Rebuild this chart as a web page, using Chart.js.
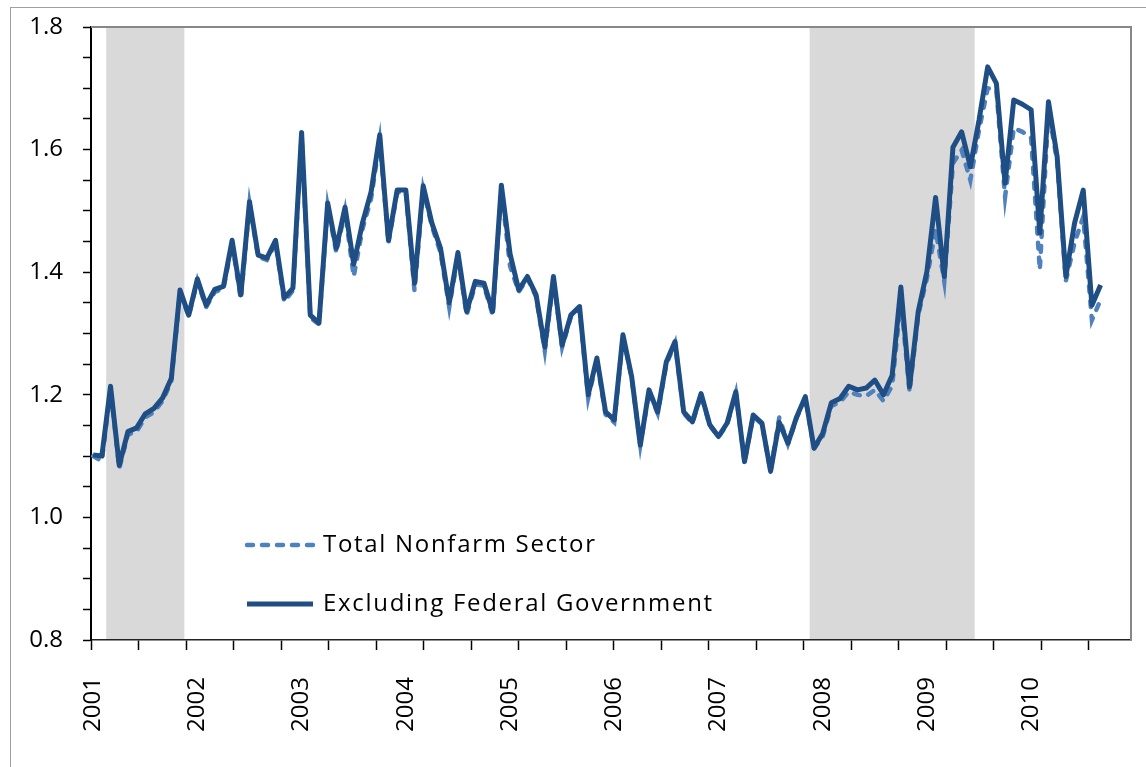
<!DOCTYPE html>
<html>
<head>
<meta charset="utf-8">
<script src="https://cdn.jsdelivr.net/npm/chart.js@4.4.0/dist/chart.umd.min.js"></script>
<style>
  html, body { margin: 0; padding: 0; background: #fff; overflow: hidden; }
  #wrap { position: relative; width: 1146px; height: 767px; }
  #frame { position: absolute; left: 10px; top: 7px; width: 1200px; height: 800px; border: 1px solid #a0a0a0; }
  canvas { position: absolute; left: 0; top: 0; }
</style>
</head>
<body>
<div id="wrap">
  <div id="frame"></div>
  <canvas id="myChart" width="1146" height="767"></canvas>
</div>
<script>
// tick labels on the x axis (one per January)
const yearLabels = ["2001", "2002", "2003", "2004", "2005", "2006", "2007", "2008", "2009", "2010"];

// monthly series, Jan 2001 - Sep 2010
const totalNonfarm = [
  1.100, 1.092, 1.210, 1.080, 1.135, 1.140, 1.163, 1.172, 1.190, 1.222, 1.368, 1.328,
  1.386, 1.343, 1.368, 1.373, 1.448, 1.356, 1.512, 1.425, 1.420, 1.448, 1.352, 1.370,
  1.620, 1.326, 1.315, 1.508, 1.432, 1.500, 1.393, 1.470, 1.520, 1.615, 1.448, 1.530,
  1.530, 1.370, 1.535, 1.475, 1.432, 1.343, 1.428, 1.330, 1.380, 1.378, 1.330, 1.535,
  1.410, 1.368, 1.390, 1.360, 1.272, 1.388, 1.278, 1.327, 1.340, 1.195, 1.256, 1.168,
  1.155, 1.295, 1.228, 1.118, 1.205, 1.170, 1.250, 1.284, 1.170, 1.154, 1.200, 1.150,
  1.131, 1.152, 1.203, 1.090, 1.165, 1.152, 1.075, 1.163, 1.120, 1.162, 1.195, 1.112,
  1.132, 1.182, 1.188, 1.205, 1.200, 1.198, 1.208, 1.190, 1.215, 1.355, 1.205, 1.330,
  1.390, 1.470, 1.385, 1.578, 1.599, 1.550, 1.632, 1.700, 1.697, 1.523, 1.635, 1.629,
  1.619, 1.404, 1.665, 1.580, 1.386, 1.448, 1.490, 1.322, 1.355
];
const exclFederal = [
  1.102, 1.100, 1.214, 1.085, 1.140, 1.146, 1.169, 1.178, 1.195, 1.227, 1.371, 1.330,
  1.389, 1.346, 1.372, 1.377, 1.452, 1.363, 1.515, 1.428, 1.423, 1.452, 1.358, 1.374,
  1.628, 1.330, 1.317, 1.513, 1.439, 1.506, 1.413, 1.480, 1.531, 1.624, 1.452, 1.534,
  1.534, 1.382, 1.541, 1.480, 1.439, 1.350, 1.432, 1.336, 1.385, 1.382, 1.336, 1.542,
  1.430, 1.371, 1.393, 1.363, 1.278, 1.393, 1.281, 1.330, 1.344, 1.200, 1.260, 1.172,
  1.159, 1.298, 1.230, 1.118, 1.208, 1.172, 1.254, 1.287, 1.172, 1.156, 1.202, 1.151,
  1.132, 1.154, 1.205, 1.091, 1.167, 1.154, 1.075, 1.155, 1.121, 1.164, 1.197, 1.113,
  1.137, 1.187, 1.194, 1.214, 1.208, 1.211, 1.224, 1.200, 1.232, 1.376, 1.213, 1.336,
  1.401, 1.522, 1.393, 1.604, 1.629, 1.572, 1.648, 1.735, 1.708, 1.545, 1.681, 1.674,
  1.665, 1.464, 1.678, 1.588, 1.393, 1.480, 1.534, 1.346, 1.379
];

// recessions (shaded), first and last month
const recessionStart = ["2001-03", "2007-12"];
const recessionEnd = ["2001-11", "2009-06"];

// month categories
const months = [];
yearLabels.forEach(function (y) {
  for (let m = 1; m <= 12; m++) {
    months.push(y + "-" + String(m).padStart(2, "0"));
  }
});
const toPoints = function (arr) {
  return arr.map(function (v, i) { return { x: i, y: v }; });
};

const FONT = "'Open Sans', 'Liberation Sans', sans-serif";
const xTickStep = 5.47;

// grey recession bars
const shadePlugin = {
  id: "shade",
  beforeDatasetsDraw(chart) {
    const { ctx, chartArea, scales } = chart;
    ctx.save();
    ctx.fillStyle = "#d9d9d9";
    recessionStart.forEach(function (s, i) {
      const x0 = scales.x.getPixelForValue(months.indexOf(s) - 0.5);
      const x1 = scales.x.getPixelForValue(months.indexOf(recessionEnd[i]) + 0.5);
      ctx.fillRect(x0, chartArea.top, x1 - x0, chartArea.bottom - chartArea.top - 1);
    });
    ctx.restore();
  }
};

// top/right border of plot and the legend inside it
const framePlugin = {
  id: "frameLegend",
  afterDraw(chart) {
    const { ctx, chartArea } = chart;
    ctx.save();
    ctx.strokeStyle = "#878787";
    ctx.lineWidth = 2;
    ctx.beginPath();
    ctx.moveTo(chartArea.left, chartArea.top);
    ctx.lineTo(chartArea.right, chartArea.top);
    ctx.lineTo(chartArea.right, chartArea.bottom);
    ctx.stroke();

    // legend
    const lx = chartArea.left + 154;
    const rows = [chartArea.top + 518, chartArea.top + 577];
    chart.data.datasets.forEach(function (ds, i) {
      const y = rows[i];
      ctx.strokeStyle = ds.borderColor;
      ctx.lineWidth = ds.borderWidth;
      ctx.lineCap = ds.borderCapStyle || "butt";
      ctx.setLineDash(ds.borderDash || []);
      ctx.beginPath();
      ctx.moveTo(lx + 2, y);
      ctx.lineTo(lx + 68, y);
      ctx.stroke();
      ctx.setLineDash([]);
      ctx.fillStyle = "#000";
      ctx.font = "24px " + FONT;
      ctx.letterSpacing = "1.7px";
      ctx.textBaseline = "middle";
      ctx.textAlign = "left";
      ctx.fillText(ds.label, lx + 78, y);
    });
    ctx.restore();
  }
};

const ctx = document.getElementById("myChart").getContext("2d");
const myChart = new Chart(ctx, {
  type: "line",
  data: {
    datasets: [
      {
        label: "Total Nonfarm Sector",
        data: toPoints(totalNonfarm),
        borderColor: "#4f81bd",
        borderWidth: 4.5,
        borderDash: [6, 9],
        borderCapStyle: "round",
        pointRadius: 0,
        tension: 0,
        order: 1,
      },
      {
        label: "Excluding Federal Government",
        data: toPoints(exclFederal),
        borderColor: "#1f4e85",
        borderWidth: 5,
        borderJoinStyle: "round",
        pointRadius: 0,
        tension: 0,
        order: 0,
      },
    ],
  },
  options: {
    responsive: false,
    animation: false,
    layout: { padding: { top: 27, right: 15, left: 0, bottom: 0 } },
    plugins: {
      legend: { display: false },
      tooltip: { enabled: false },
    },
    scales: {
      x: {
        type: "linear",
        min: -0.25,
        max: 119.5,
        afterBuildTicks(scale) {
          const t = [];
          for (let v = scale.min; v < scale.max; v += xTickStep) {
            t.push({ value: v });
          }
          yearLabels.forEach(function (y) {
            t.push({ value: months.indexOf(y + "-01"), yr: y });
          });
          t.sort(function (a, b) { return a.value - b.value; });
          scale.ticks = t;
        },
        afterFit(scale) { scale.height = 127; },
        ticks: {
          autoSkip: false,
          minRotation: 90,
          maxRotation: 90,
          padding: 27,
          color: "#000",
          font: { family: FONT, size: 24 },
          callback(value, index, ticks) {
            return ticks[index].yr || "";
          },
        },
        grid: {
          drawOnChartArea: false,
          tickLength: 10,
          tickWidth: 1.5,
          tickColor(c) { return c.tick && c.tick.yr ? "rgba(0,0,0,0)" : "#000"; },
        },
        border: { display: true, color: "#222", width: 1.5, dash: [8, 4] },
      },
      y: {
        min: 0.8,
        max: 1.8,
        afterFit(scale) {
          scale.width = 91;
          scale.paddingTop = 0;
          scale.paddingBottom = 0;
        },
        ticks: {
          stepSize: 0.05,
          autoSkip: false,
          padding: 20,
          color: "#000",
          font: { family: FONT, size: 24 },
          callback(value) {
            return Math.round(value * 100) % 20 === 0 ? value.toFixed(1) : "";
          },
        },
        grid: {
          drawOnChartArea: false,
          tickLength: 8,
          tickWidth: 1.5,
          tickColor: "#000",
        },
        border: { display: true, color: "#000", width: 2 },
      },
    },
  },
  plugins: [shadePlugin, framePlugin],
});
</script>
</body>
</html>
